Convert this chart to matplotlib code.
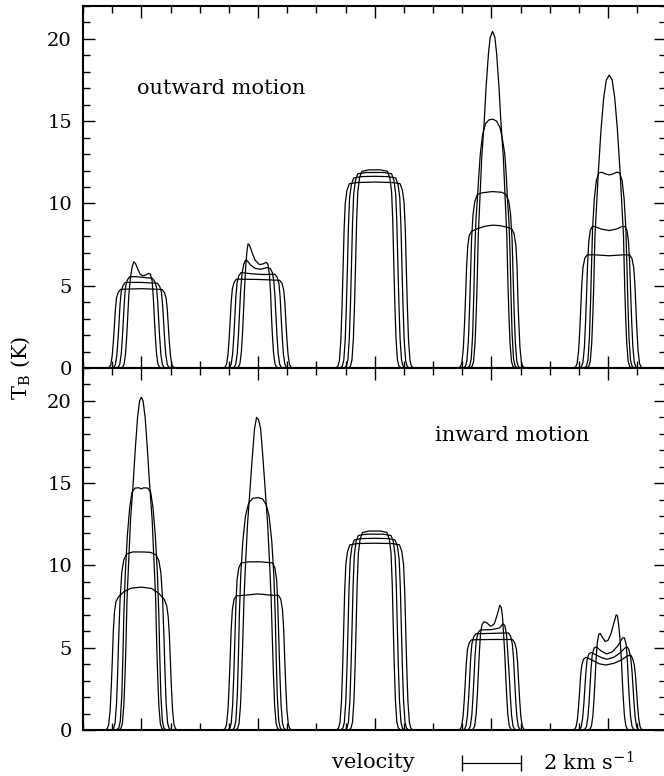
import matplotlib.pyplot as plt
import numpy as np

plt.rcParams['font.family'] = ['DejaVu Serif']
plt.rcParams['mathtext.fontset'] = 'dejavuserif'

# velocity centre of each model (km/s)
CENTERS = [2, 6, 10, 14, 18]

# shape of the line wings below the half-height knot (offset outward in km/s,
# fraction of the half-height temperature)
FOOT_OFF = [0.24, 0.17, 0.12, 0.07, 0.03]
FOOT_FRAC = [0.0, 0.02, 0.08, 0.30, 0.66]

# knots (velocity offset, T_B) of each profile, from left half-height to right half-height
# outward motion
TOP_G1 = [
    [(-0.93, 2.4), (-0.89, 3.55), (-0.85, 4.27), (-0.79, 4.6), (-0.71, 4.78), (0, 4.82),
     (0.71, 4.77), (0.79, 4.58), (0.85, 4.25), (0.89, 3.55), (0.93, 2.4)],
    [(-0.77, 2.6), (-0.73, 3.85), (-0.69, 4.63), (-0.63, 5.0), (-0.55, 5.2), (0, 5.2),
     (0.55, 5.15), (0.63, 4.95), (0.69, 4.6), (0.73, 3.8), (0.77, 2.6)],
    [(-0.62, 2.8), (-0.58, 4.1), (-0.54, 4.95), (-0.48, 5.35), (-0.40, 5.55), (-0.2, 5.55),
     (0.1, 5.5), (0.38, 5.45), (0.46, 5.25), (0.52, 4.9), (0.56, 4.05), (0.6, 2.75)],
    [(-0.47, 3.0), (-0.43, 4.4), (-0.38, 5.4), (-0.32, 6.1), (-0.26, 6.45), (-0.2, 6.35),
     (-0.12, 6.0), (-0.04, 5.7), (0.05, 5.6), (0.15, 5.65), (0.25, 5.75), (0.31, 5.7),
     (0.37, 5.3), (0.41, 4.3), (0.45, 2.9)],
]
TOP_G2 = [
    [(-0.96, 2.7), (-0.92, 4.0), (-0.88, 4.8), (-0.82, 5.2), (-0.74, 5.4), (0, 5.38),
     (0.74, 5.33), (0.82, 5.15), (0.88, 4.75), (0.92, 3.95), (0.96, 2.68)],
    [(-0.80, 2.9), (-0.76, 4.3), (-0.72, 5.15), (-0.66, 5.6), (-0.58, 5.8), (-0.2, 5.72),
     (0.2, 5.68), (0.58, 5.7), (0.66, 5.5), (0.72, 5.1), (0.76, 4.25), (0.80, 2.85)],
    [(-0.64, 3.1), (-0.60, 4.6), (-0.55, 5.7), (-0.49, 6.3), (-0.43, 6.55), (-0.36, 6.5),
     (-0.25, 6.25), (-0.1, 6.05), (0.1, 6.0), (0.3, 6.1), (0.42, 6.05), (0.49, 5.8),
     (0.54, 5.3), (0.58, 4.4), (0.62, 3.0)],
    [(-0.50, 3.3), (-0.46, 4.9), (-0.42, 6.2), (-0.38, 7.1), (-0.34, 7.55), (-0.29, 7.45),
     (-0.2, 7.0), (-0.1, 6.55), (0.05, 6.28), (0.18, 6.33), (0.28, 6.42), (0.34, 6.3),
     (0.39, 5.7), (0.43, 4.6), (0.46, 3.2)],
]
TOP_G3 = [
    [(-1.09, 5.64), (-1.05, 8.35), (-1.01, 10.0), (-0.95, 10.8), (-0.87, 11.2), (-0.6, 11.27),
     (0, 11.3), (0.6, 11.27), (0.87, 11.2), (0.95, 10.8), (1.01, 10.0), (1.05, 8.35), (1.09, 5.64)],
    [(-0.94, 5.8), (-0.90, 8.6), (-0.86, 10.35), (-0.80, 11.15), (-0.72, 11.55), (-0.45, 11.63),
     (0, 11.65), (0.45, 11.63), (0.72, 11.55), (0.80, 11.15), (0.86, 10.35), (0.90, 8.6), (0.94, 5.8)],
    [(-0.80, 5.95), (-0.76, 8.8), (-0.72, 10.55), (-0.66, 11.4), (-0.58, 11.8), (-0.3, 11.88),
     (0.3, 11.88), (0.58, 11.8), (0.66, 11.4), (0.72, 10.55), (0.76, 8.8), (0.80, 5.95)],
    [(-0.66, 6.0), (-0.62, 8.9), (-0.58, 10.7), (-0.52, 11.55), (-0.44, 11.95), (-0.2, 12.04),
     (0.2, 12.04), (0.44, 11.95), (0.52, 11.55), (0.58, 10.7), (0.62, 8.9), (0.66, 6.0)],
]
TOP_G4 = [
    [(-0.89, 4.1), (-0.85, 6.1), (-0.81, 7.4), (-0.76, 8.05), (-0.68, 8.3), (-0.5, 8.45),
     (-0.25, 8.6), (0.03, 8.68), (0.3, 8.65), (0.55, 8.55), (0.7, 8.45), (0.78, 8.15),
     (0.84, 7.45), (0.88, 6.2), (0.91, 4.2)],
    [(-0.72, 5.3), (-0.68, 7.8), (-0.63, 9.3), (-0.57, 10.1), (-0.48, 10.55), (-0.3, 10.65),
     (0.03, 10.72), (0.35, 10.68), (0.5, 10.55), (0.6, 10.1), (0.66, 9.3), (0.71, 7.8), (0.75, 5.3)],
    [(-0.57, 7.0), (-0.53, 9.0), (-0.49, 10.0), (-0.43, 11.7), (-0.38, 13.0), (-0.3, 14.2),
     (-0.2, 14.85), (-0.08, 15.08), (0.05, 15.12), (0.18, 15.0), (0.3, 14.6), (0.38, 13.9),
     (0.46, 13.0), (0.51, 11.7), (0.56, 10.0), (0.6, 9.0), (0.64, 7.0)],
    [(-0.49, 5.0), (-0.45, 8.0), (-0.40, 10.0), (-0.33, 12.8), (-0.245, 15.0), (-0.18, 17.1),
     (-0.10, 19.1), (-0.04, 20.1), (0.04, 20.45), (0.12, 20.1), (0.18, 19.1), (0.26, 17.1),
     (0.325, 15.0), (0.41, 12.8), (0.48, 10.0), (0.53, 8.0), (0.57, 5.0)],
]
TOP_G5 = [
    [(-0.94, 3.45), (-0.90, 5.1), (-0.86, 6.1), (-0.80, 6.65), (-0.72, 6.87), (-0.5, 6.88),
     (0.04, 6.82), (0.55, 6.88), (0.74, 6.87), (0.82, 6.65), (0.88, 6.1), (0.92, 5.1), (0.96, 3.45)],
    [(-0.74, 4.3), (-0.70, 6.4), (-0.66, 7.7), (-0.61, 8.35), (-0.54, 8.6), (-0.45, 8.6),
     (-0.25, 8.45), (0.04, 8.35), (0.3, 8.45), (0.48, 8.6), (0.58, 8.6), (0.65, 8.35),
     (0.7, 7.7), (0.74, 6.4), (0.78, 4.3)],
    [(-0.57, 6.0), (-0.53, 8.5), (-0.47, 10.3), (-0.40, 11.4), (-0.32, 11.85), (-0.22, 11.9),
     (-0.1, 11.8), (0.04, 11.73), (0.18, 11.8), (0.3, 11.9), (0.4, 11.85), (0.48, 11.4),
     (0.55, 10.3), (0.61, 8.5), (0.65, 6.0)],
    [(-0.49, 5.0), (-0.45, 8.0), (-0.39, 10.0), (-0.33, 12.0), (-0.24, 14.5), (-0.15, 16.4),
     (-0.06, 17.5), (0.04, 17.8), (0.14, 17.5), (0.23, 16.4), (0.32, 14.5), (0.41, 12.0),
     (0.47, 10.0), (0.53, 8.0), (0.57, 5.0)],
]

# inward motion
BOT_G1 = [
    [(-1.0, 4.0), (-0.96, 6.0), (-0.92, 7.2), (-0.87, 7.8), (-0.78, 8.1), (-0.6, 8.4),
     (-0.35, 8.62), (0, 8.68), (0.35, 8.6), (0.6, 8.3), (0.78, 7.95), (0.87, 7.55),
     (0.92, 6.9), (0.96, 5.8), (1.0, 4.0)],
    [(-0.78, 5.4), (-0.73, 7.9), (-0.67, 9.6), (-0.6, 10.35), (-0.5, 10.7), (-0.3, 10.82),
     (0, 10.82), (0.3, 10.8), (0.5, 10.65), (0.6, 10.3), (0.67, 9.55), (0.73, 7.9), (0.78, 5.4)],
    [(-0.60, 7.0), (-0.55, 9.5), (-0.48, 11.8), (-0.40, 13.5), (-0.32, 14.45), (-0.22, 14.7),
     (-0.08, 14.72), (0.0, 14.65), (0.08, 14.72), (0.22, 14.7), (0.32, 14.45), (0.40, 13.5),
     (0.48, 11.8), (0.55, 9.5), (0.60, 7.0)],
    [(-0.53, 5.0), (-0.49, 8.0), (-0.44, 10.0), (-0.37, 12.8), (-0.28, 15.0), (-0.21, 17.0),
     (-0.13, 19.0), (-0.06, 20.0), (0.0, 20.22), (0.06, 20.0), (0.13, 19.0), (0.21, 17.0),
     (0.28, 15.0), (0.37, 12.8), (0.44, 10.0), (0.49, 8.0), (0.53, 5.0)],
]
BOT_G2 = [
    [(-0.96, 4.1), (-0.92, 6.1), (-0.88, 7.3), (-0.82, 7.95), (-0.74, 8.15), (-0.4, 8.2),
     (0.0, 8.27), (0.4, 8.2), (0.7, 8.18), (0.78, 7.95), (0.84, 7.3), (0.88, 6.1), (0.92, 4.1)],
    [(-0.80, 5.1), (-0.76, 7.5), (-0.72, 9.1), (-0.66, 9.85), (-0.58, 10.15), (-0.3, 10.22),
     (0.1, 10.22), (0.5, 10.15), (0.58, 9.85), (0.64, 9.1), (0.68, 7.5), (0.72, 5.1)],
    [(-0.64, 7.0), (-0.59, 9.5), (-0.52, 11.5), (-0.43, 13.0), (-0.32, 13.8), (-0.18, 14.08),
     (0.0, 14.12), (0.15, 14.05), (0.28, 13.7), (0.38, 13.0), (0.47, 11.5), (0.54, 9.5), (0.59, 7.0)],
    [(-0.53, 5.0), (-0.48, 8.0), (-0.43, 10.0), (-0.36, 12.5), (-0.28, 14.5), (-0.2, 16.5),
     (-0.12, 18.3), (-0.05, 19.0), (0.02, 18.85), (0.09, 18.3), (0.17, 16.5), (0.25, 14.5),
     (0.33, 12.5), (0.40, 10.0), (0.45, 8.0), (0.50, 5.0)],
]
BOT_G3 = [
    [(-1.07, 5.67), (-1.03, 8.4), (-0.99, 10.05), (-0.93, 10.85), (-0.85, 11.25), (-0.6, 11.33),
     (0, 11.35), (0.6, 11.33), (0.85, 11.25), (0.93, 10.85), (0.99, 10.05), (1.03, 8.4), (1.07, 5.67)],
    [(-0.92, 5.8), (-0.88, 8.6), (-0.84, 10.35), (-0.78, 11.15), (-0.70, 11.55), (-0.45, 11.63),
     (0, 11.65), (0.45, 11.63), (0.70, 11.55), (0.78, 11.15), (0.84, 10.35), (0.88, 8.6), (0.92, 5.8)],
    [(-0.78, 5.95), (-0.74, 8.8), (-0.70, 10.6), (-0.64, 11.45), (-0.56, 11.82), (-0.3, 11.9),
     (0.3, 11.9), (0.56, 11.82), (0.64, 11.45), (0.70, 10.6), (0.74, 8.8), (0.78, 5.95)],
    [(-0.64, 6.05), (-0.60, 8.95), (-0.56, 10.75), (-0.50, 11.6), (-0.42, 12.0), (-0.2, 12.09),
     (0.2, 12.09), (0.42, 12.0), (0.50, 11.6), (0.56, 10.75), (0.60, 8.95), (0.64, 6.05)],
]
BOT_G4 = [
    [(-0.90, 2.75), (-0.86, 4.05), (-0.82, 4.9), (-0.76, 5.3), (-0.68, 5.48), (0, 5.5),
     (0.72, 5.5), (0.8, 5.3), (0.86, 4.9), (0.9, 4.05), (0.94, 2.75)],
    [(-0.75, 2.95), (-0.71, 4.35), (-0.67, 5.2), (-0.61, 5.65), (-0.53, 5.85), (0, 5.87),
     (0.58, 5.9), (0.66, 5.7), (0.72, 5.2), (0.76, 4.35), (0.80, 2.95)],
    [(-0.60, 3.05), (-0.56, 4.5), (-0.52, 5.4), (-0.46, 5.9), (-0.38, 6.08), (0.0, 6.1),
     (0.28, 6.2), (0.4, 6.45), (0.46, 6.35), (0.52, 5.8), (0.57, 4.5), (0.62, 3.1)],
    [(-0.45, 3.3), (-0.41, 4.8), (-0.37, 5.9), (-0.32, 6.4), (-0.25, 6.58), (-0.15, 6.5),
     (-0.02, 6.3), (0.1, 6.45), (0.2, 7.0), (0.29, 7.58), (0.34, 7.45), (0.38, 6.9),
     (0.42, 5.8), (0.46, 4.6), (0.49, 3.4)],
]
BOT_G5 = [
    [(-0.98, 2.2), (-0.94, 3.3), (-0.90, 3.95), (-0.84, 4.3), (-0.76, 4.42), (-0.55, 4.25),
     (-0.3, 4.02), (-0.08, 3.95), (0.2, 4.05), (0.45, 4.25), (0.66, 4.5), (0.78, 4.55),
     (0.84, 4.35), (0.90, 3.95), (0.94, 3.3), (0.98, 2.3)],
    [(-0.8, 2.4), (-0.76, 3.5), (-0.72, 4.25), (-0.66, 4.62), (-0.58, 4.72), (-0.4, 4.55),
     (-0.2, 4.38), (-0.03, 4.3), (0.2, 4.42), (0.42, 4.7), (0.58, 4.98), (0.66, 5.05),
     (0.72, 4.85), (0.78, 4.35), (0.82, 3.6), (0.86, 2.5)],
    [(-0.62, 2.6), (-0.58, 3.8), (-0.54, 4.6), (-0.48, 4.98), (-0.40, 5.05), (-0.25, 4.82),
     (-0.05, 4.62), (0.15, 4.75), (0.35, 5.15), (0.5, 5.6), (0.56, 5.6), (0.62, 5.2),
     (0.66, 4.3), (0.70, 2.8)],
    [(-0.45, 2.9), (-0.41, 4.3), (-0.37, 5.3), (-0.32, 5.8), (-0.27, 5.87), (-0.2, 5.65),
     (-0.1, 5.38), (0.0, 5.45), (0.1, 5.85), (0.2, 6.5), (0.28, 7.0), (0.32, 6.95),
     (0.37, 6.3), (0.42, 5.3), (0.46, 4.2), (0.49, 3.0)],
]

TOP = [TOP_G1, TOP_G2, TOP_G3, TOP_G4, TOP_G5]
BOTTOM = [BOT_G1, BOT_G2, BOT_G3, BOT_G4, BOT_G5]

FS = 14      # tick labels
FS_TXT = 15  # annotations


def profile(knots, centre):
    '''
        knots plus the wings down to zero on both sides
    '''
    v0, t0 = knots[0]
    v1, t1 = knots[-1]
    left = [(v0 - o, f * t0) for o, f in zip(FOOT_OFF, FOOT_FRAC)]
    right = [(v1 + o, f * t1) for o, f in zip(FOOT_OFF, FOOT_FRAC)][::-1]
    pts = [(v0 - 0.6, 0.0)] + left + list(knots) + right + [(v1 + 0.6, 0.0)]
    v = np.array([p[0] for p in pts]) + centre
    t = np.array([p[1] for p in pts])
    return v, t


def setup(ax):
    ax.set_xlim(0, 20)
    ax.set_ylim(0, 22)
    ax.set_xticks(CENTERS)
    ax.set_xticks(np.arange(0, 21, 1), minor=True)
    ax.set_yticks([0, 5, 10, 15, 20])
    ax.set_yticks(np.arange(0, 23, 1), minor=True)
    ax.tick_params(which='both', direction='in', top=True, right=True,
                   labelbottom=False, labelsize=FS, pad=8)
    ax.tick_params(which='major', length=8.5, width=1.0)
    ax.tick_params(which='minor', length=5, width=1.0)
    for s in ax.spines.values():
        s.set_linewidth(1.5)


fig = plt.figure(figsize=(6.64, 7.76), dpi=100)
ax_top = fig.add_axes([0.125, 0.5258, 0.8786, 0.4665])
ax_bot = fig.add_axes([0.125, 0.0593, 0.8786, 0.4665])

for ax, groups in ((ax_top, TOP), (ax_bot, BOTTOM)):
    setup(ax)
    for centre, curves in zip(CENTERS, groups):
        for knots in curves:
            v, t = profile(knots, centre)
            ax.plot(v, t, color='black', lw=0.9)

ax_top.text(1.85, 17.0, 'outward motion', fontsize=FS_TXT, va='center')
ax_bot.text(12.07, 17.9, 'inward motion', fontsize=FS_TXT, va='center')

# velocity scale bar below the lower panel
ax_bot.text(8.53, -2.0, 'velocity', fontsize=FS_TXT, va='center', clip_on=False)
ax_bot.plot([13, 15], [-2, -2], color='black', lw=0.9, marker='|',
            markersize=11, clip_on=False)
ax_bot.text(15.78, -2.0, r'2 km s$^{-1}$', fontsize=FS_TXT, va='center', clip_on=False)

fig.text(21 / 664, 1 - 368 / 776, r'T$_{\rm B}$ (K)', rotation=90,
         fontsize=FS_TXT, ha='center', va='center')

fig.savefig('out.png', dpi=100)
